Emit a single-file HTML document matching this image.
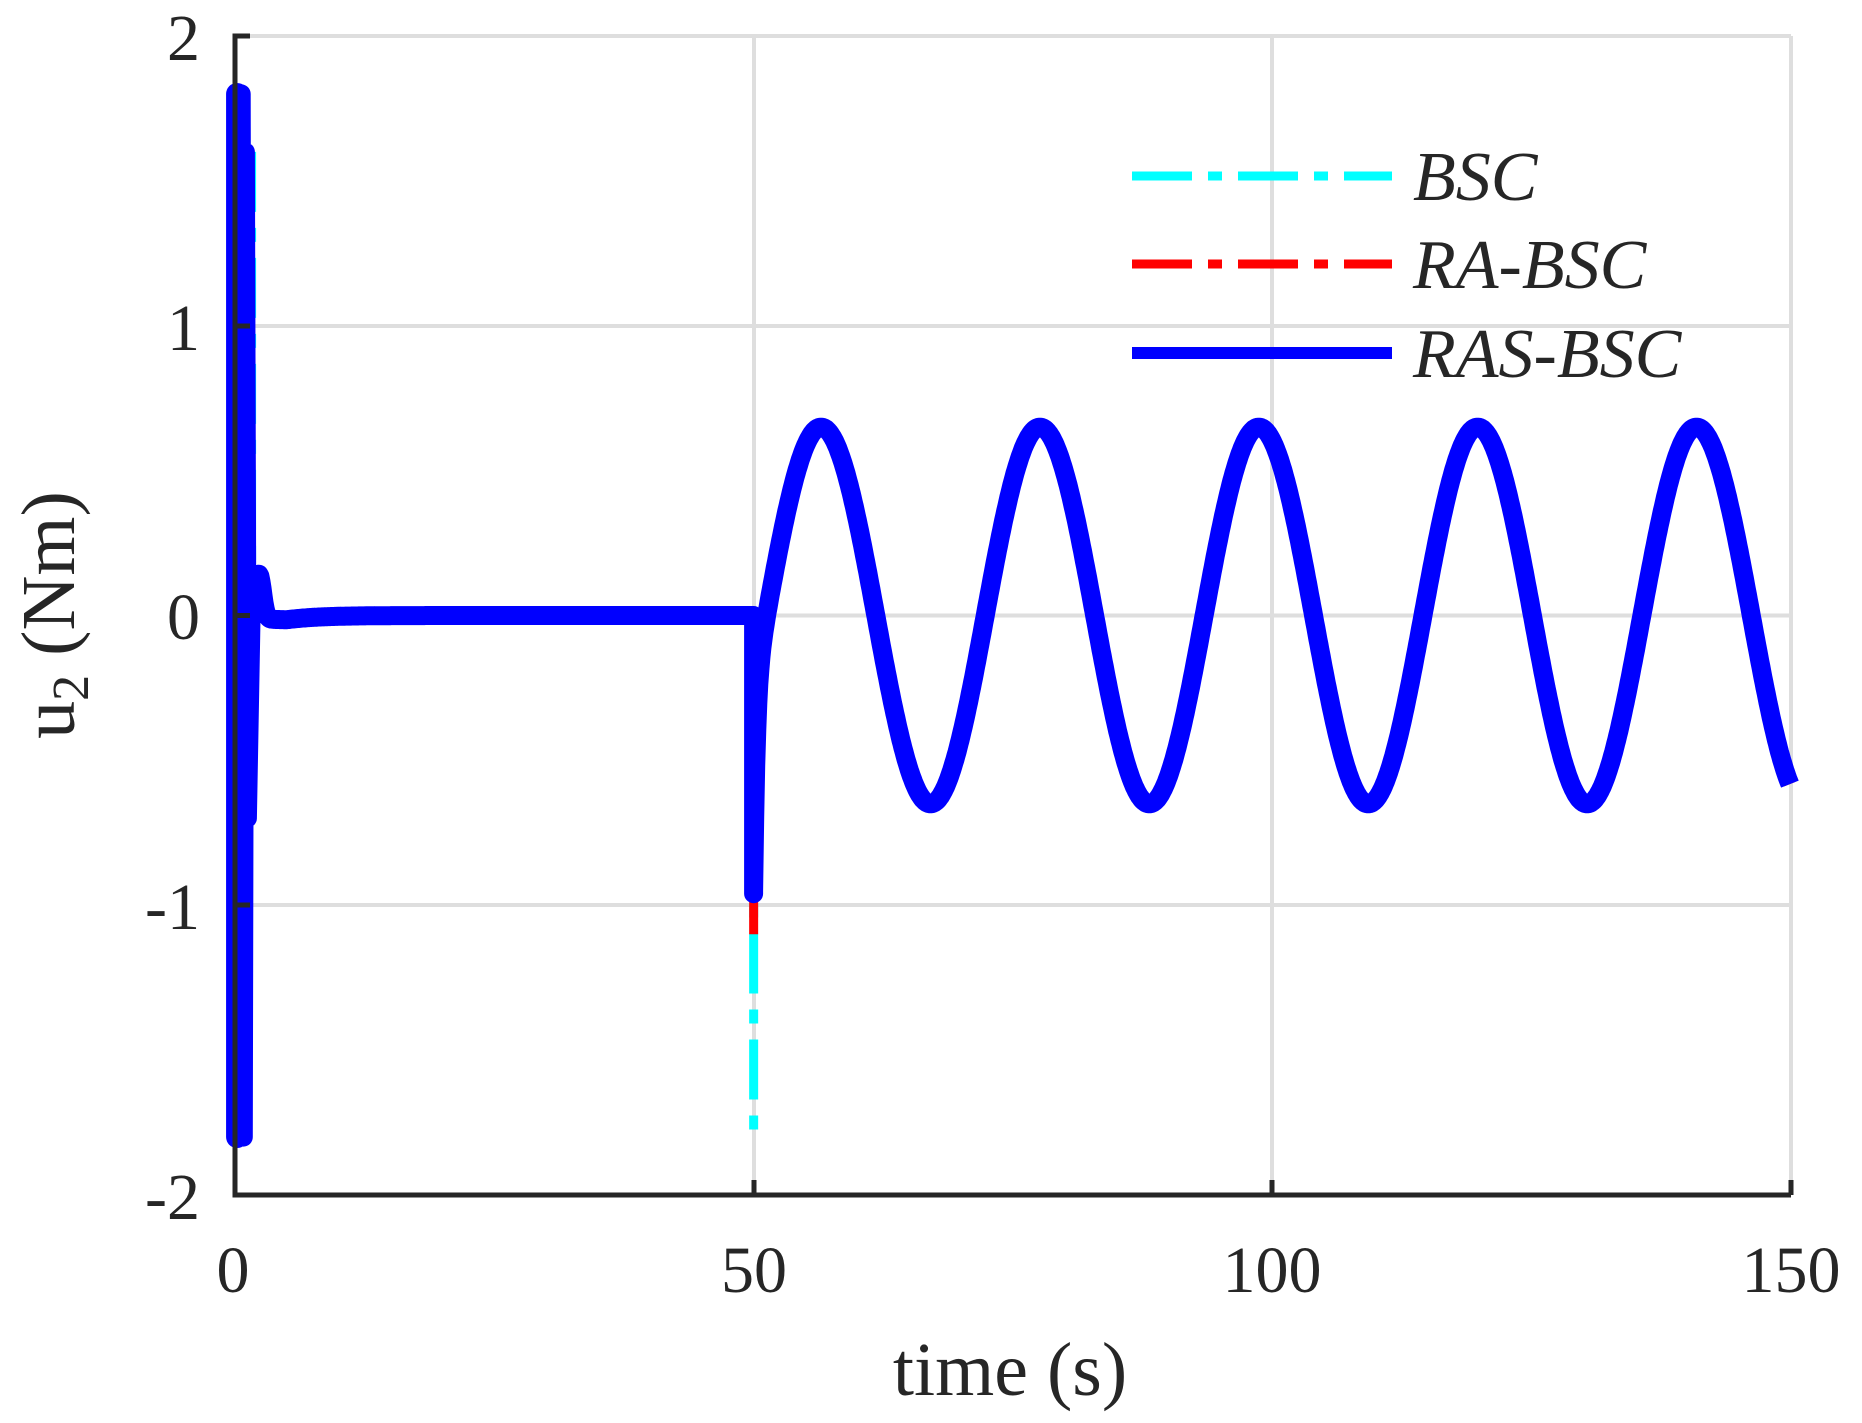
<!DOCTYPE html>
<html><head><meta charset="utf-8"><style>
html,body{margin:0;padding:0;background:#fff}
svg{display:block}
text{font-family:"Liberation Serif",serif;fill:#262626}
</style></head><body>
<svg id="s" width="1862" height="1423" viewBox="0 0 1862 1423" xmlns="http://www.w3.org/2000/svg">
<g stroke="#dedede" stroke-width="4">
<line x1="235" y1="36" x2="1791" y2="36"/>
<line x1="235" y1="326" x2="1791" y2="326"/>
<line x1="235" y1="615.5" x2="1791" y2="615.5"/>
<line x1="235" y1="905" x2="1791" y2="905"/>
<line x1="754" y1="36" x2="754" y2="1195"/>
<line x1="1272" y1="36" x2="1272" y2="1195"/>
<line x1="1791" y1="36" x2="1791" y2="1195"/>
</g>
<g id="data" fill="none" stroke-linejoin="round"></g>
<g stroke="#262626" stroke-width="5" fill="none">
<polyline points="250,36 235,36 235,1195 1791,1195"/>
<line x1="754" y1="1195" x2="754" y2="1180"/>
<line x1="1272" y1="1195" x2="1272" y2="1180"/>
<line x1="1791" y1="1195" x2="1791" y2="1180"/>
<line x1="235" y1="326" x2="250" y2="326"/>
<line x1="235" y1="615.5" x2="250" y2="615.5"/>
<line x1="235" y1="905" x2="250" y2="905"/>
</g>
<g font-size="66" text-anchor="end">
<text x="200" y="60">2</text>
<text x="200" y="350">1</text>
<text x="200" y="639">0</text>
<text x="200" y="929">-1</text>
<text x="200" y="1219">-2</text>
</g>
<g font-size="66" text-anchor="middle">
<text x="233" y="1292">0</text>
<text x="754" y="1292">50</text>
<text x="1272" y="1292">100</text>
<text x="1791" y="1292">150</text>
</g>
<text x="1010" y="1395" font-size="76" text-anchor="middle">time (s)</text>
<text transform="translate(74,615) rotate(-90)" font-size="76" text-anchor="middle">u<tspan font-size="52" dy="14">2</tspan><tspan dy="-14"> (Nm)</tspan></text>
<g stroke-width="9">
<line x1="1132" y1="176" x2="1392" y2="176" stroke="#00ffff" stroke-dasharray="60,16,14,16"/>
<line x1="1132" y1="264" x2="1392" y2="264" stroke="#ff0000" stroke-dasharray="60,16,14,16"/>
<line x1="1132" y1="353" x2="1392" y2="353" stroke="#0000ff" stroke-width="12"/>
</g>
<g font-size="70" font-style="italic">
<text x="1413" y="200">BSC</text>
<text x="1413" y="288">RA-BSC</text>
<text x="1413" y="377">RAS-BSC</text>
</g>
</svg>
<script>
var X=t=>235+t*10.373, Y=u=>615.5-u*289.75;
function f(t,amp){
 if(t<50){
  var d=t-1.6; return 0.15*Math.exp(-Math.pow((t-2.3)/0.5,2))-0.015*(1-Math.exp(-d))*Math.exp(-Math.max(0,t-5)/3);
 }
 var s=0.65*Math.cos(2*Math.PI*(t-56.5)/21.1);
 return s+amp*Math.exp(-(t-50)/0.25);
}
function path(amp){
 var p=[];
 p.push([X(0.3),Y(1.8)]);p.push([X(0.4),Y(-1.8)]);p.push([X(0.6),Y(1.8)]);p.push([X(0.8),Y(-1.8)]);p.push([X(1.0),Y(1.6)]);p.push([X(1.2),Y(-0.7)]);p.push([X(1.6),Y(0.1)]);
 for(var t=1.8;t<50;t+=0.1)p.push([X(t),Y(f(t,amp))]);
 p.push([X(49.8),Y(0)]);p.push([X(50),Y(0)]);p.push([X(50),Y(-0.24+amp)]);
 for(var t=50;t<=149.9;t+=0.1)p.push([X(t),Y(f(t,amp))]);
 return "M"+p.map(a=>a[0].toFixed(1)+","+a[1].toFixed(1)).join("L");
}
var g=document.getElementById("data"),NS="http://www.w3.org/2000/svg";
function add(d,col,w,dash){var e=document.createElementNS(NS,"path");e.setAttribute("d",d);e.setAttribute("stroke",col);e.setAttribute("stroke-width",w);if(dash)e.setAttribute("stroke-dasharray",dash);g.appendChild(e);}
function line(x1,y1,x2,y2,col,w,dash){add("M"+x1+","+y1+"L"+x2+","+y2,col,w,dash);}
line(X(50),Y(0),X(50),Y(-1.8),"#00ffff",9,"60,16,14,16");
line(X(1.6),Y(1.6),X(1.6),Y(0.1),"#00ffff",9,"60,16,14,16");
line(X(50),Y(0),X(50),Y(-1.1),"#ff0000",9);
line(X(1.2),Y(-0.2),X(1.2),Y(-0.85),"#ff0000",9);
add(path(-0.7),"#ff0000",12);
add(path(-0.72),"#0000ff",19);
var r=document.createElementNS(NS,"path");
r.setAttribute("d","M"+X(0.2)+","+Y(1.8)+"L"+X(0.2)+","+Y(-1.8));
r.setAttribute("stroke","#0000ff");r.setAttribute("stroke-width",22);r.setAttribute("stroke-linecap","round");g.appendChild(r);
</script>
</body></html>
